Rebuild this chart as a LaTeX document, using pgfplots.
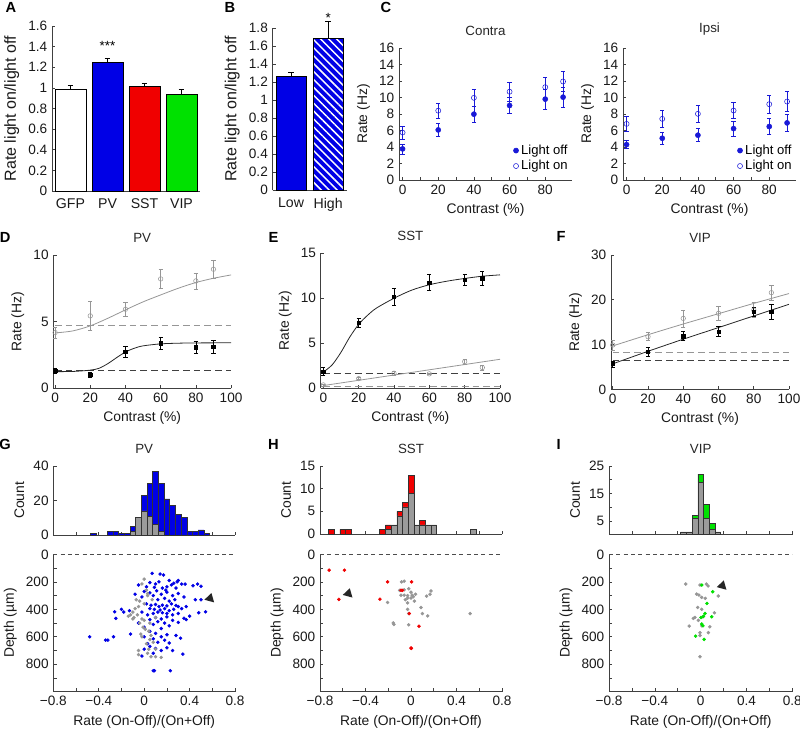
\documentclass[border=0pt]{standalone}
\usepackage{fontspec}
\setmainfont{Liberation Sans}
\usepackage{pgfplots}
\pgfplotsset{compat=1.18}
\usetikzlibrary{patterns.meta}
\definecolor{mblue}{RGB}{0,0,230}
\definecolor{cblue}{RGB}{25,25,215}
\definecolor{mred}{RGB}{240,0,0}
\definecolor{mgreen}{RGB}{0,225,0}
\definecolor{mgrey}{RGB}{150,150,150}
\definecolor{hgrey}{RGB}{155,155,155}
\pgfplotsset{
 base/.style={scale only axis, anchor=south west, axis lines=left,
   axis line style={-, black!75, line width=0.5pt},
   tick align=inside, major tick length=2.5pt, minor tick length=2.5pt,
   tick style={black!75, line width=0.5pt}, clip=false,
   /pgf/number format/assume math mode=true,
   every tick label/.append style={font=\fontsize{10.2}{11}\selectfont, text=black!90},
   label style={font=\fontsize{10.4}{12}\selectfont, text=black!90},
   title style={font=\fontsize{10}{11}\selectfont, text=black!85}},
 errs/.style={error bars/.cd, y dir=both, y explicit,
   error bar style={line width=0.45pt},
   error mark options={rotate=90, mark size=1.6pt, line width=0.45pt}},
 errp/.style={error bars/.cd, y dir=plus, y explicit,
   error bar style={line width=0.5pt, black},
   error mark options={rotate=90, mark size=2.2pt, line width=0.5pt, black}},
 hist/.style={base, xmin=-0.8, xmax=0.8, ymin=0, ybar stacked, bar width=0.05,
   xtick={-0.8,-0.6,-0.4,-0.2,0,0.2,0.4,0.6,0.8}, xticklabels={}, ylabel={Count}},
 scat/.style={base, xmin=-0.8, xmax=0.8, ymin=0, ymax=1000, y dir=reverse,
   xtick={-0.8,-0.6,-0.4,-0.2,0,0.2,0.4,0.6,0.8},
   xticklabels={−0.8,,−0.4,,0,,0.4,,0.8},
   ytick={0,100,200,300,400,500,600,700,800,900,1000},
   yticklabels={0,,200,,400,,600,,800,,},
   xlabel={Rate (On-Off)/(On+Off)}, ylabel={Depth (µm)}},
 cont/.style={base, xmin=-2, xmax=95, ymin=0, ymax=16, xtick={0,20,40,60,80},
   minor x tick num=1, ytick={0,2,4,6,8,10,12,14,16},
   xlabel={Contrast (\%)}, ylabel={Rate (Hz)},
   legend style={draw=none, fill=none, at={(1.0,0.03)}, anchor=south east,
     font=\fontsize{9.8}{10}\selectfont, row sep=-1pt, inner sep=1pt},
   legend cell align=left},
 tune/.style={base, xmin=-1, xmax=100, ymin=0, xtick={0,20,40,60,80,100},
   xlabel={Contrast (\%)}, ylabel={Rate (Hz)}},
}
\begin{document}
\begin{tikzpicture}[font=\fontsize{10}{11}\selectfont]
\path[use as bounding box] (0,0) rectangle (600pt,549pt);
% panel letters
\begin{scope}[every node/.style={font=\bfseries\fontsize{11}{12}\selectfont}]
\node at (8.25pt,543.4pt) {A};
\node at (172.5pt,543.4pt) {B};
\node at (289.5pt,543.4pt) {C};
\node at (3.9pt,370.9pt) {D};
\node at (205.1pt,370.9pt) {E};
\node at (420.75pt,372pt) {F};
\node at (3.9pt,216pt) {G};
\node at (205.1pt,216pt) {H};
\node at (418.9pt,216pt) {I};
\end{scope}

% ---------------- A
\begin{axis}[base, at={(39pt,405.75pt)}, width=111pt, height=123.75pt,
  xmin=0.5, xmax=4.5, ymin=0, ymax=1.6, ybar, bar width=0.84,
  ytick={0,0.2,0.4,0.6,0.8,1,1.2,1.4,1.6},
  xtick={1,2,3,4}, xticklabels={GFP,PV,SST,VIP}, xtick style={draw=none},
  xticklabel style={font=\fontsize{10.6}{11}\selectfont},
  ylabel style={font=\fontsize{12}{13}\selectfont},
  ylabel={Rate light on/light off}]
\addplot[fill=white, draw=black, bar shift=0pt, errp] coordinates {(1,0.986) +- (0,0.04)};
\addplot[fill=mblue, draw=black, bar shift=0pt, errp] coordinates {(2,1.251) +- (0,0.036)};
\addplot[fill=mred, draw=black, bar shift=0pt, errp] coordinates {(3,1.018) +- (0,0.026)};
\addplot[fill=mgreen, draw=black, bar shift=0pt, errp] coordinates {(4,0.938) +- (0,0.044)};
\node[anchor=base] at (axis cs:2,1.36) {***};
\end{axis}

% ---------------- B
\begin{axis}[base, at={(204.4pt,406.5pt)}, width=55.6pt, height=121.5pt,
  xmin=0.5, xmax=2.5, ymin=0, ymax=1.8, ybar, bar width=0.82,
  ytick={0,0.2,0.4,0.6,0.8,1,1.2,1.4,1.6,1.8},
  xtick={1,2}, xticklabels={Low,High}, xtick style={draw=none},
  xticklabel style={font=\fontsize{10.6}{11}\selectfont},
  ylabel style={font=\fontsize{12}{13}\selectfont},
  ylabel={Rate light on/light off}]
\addplot[fill=mblue, draw=black, bar shift=0pt, errp] coordinates {(1,1.259) +- (0,0.05)};
\addplot[fill=mblue, draw=black, bar shift=0pt,
  postaction={pattern={Lines[angle=-45,distance=4.2pt,line width=1.1pt]}, pattern color=white},
  errp] coordinates {(2,1.69) +- (0,0.18)};
\node[anchor=base] at (axis cs:2,1.86) {*};
\end{axis}

% ---------------- C Contra
\begin{axis}[cont, at={(299.25pt,414pt)}, width=129.75pt, height=99pt, title={Contra}]
\addplot[only marks, mark=*, mark size=1.9pt, cblue, errs] coordinates {
(0,3.77) +- (0,0.6) (20,6.07) +- (0,0.75) (40,7.98) +- (0,1.0)
(60,9.03) +- (0,1.0) (80,9.8) +- (0,1.2) (90,10.04) +- (0,1.2)};
\addlegendentry{Light off}
\addplot[only marks, mark=o, mark size=1.9pt, cblue, errs] coordinates {
(0,5.75) +- (0,0.8) (20,8.4) +- (0,0.95) (40,9.96) +- (0,1.07)
(60,10.7) +- (0,1.2) (80,11.25) +- (0,1.2) (90,11.94) +- (0,1.2)};
\addlegendentry{Light on}
\end{axis}

% ---------------- C Ipsi
\begin{axis}[cont, at={(467.25pt,414pt)}, width=129.75pt, height=99pt, title={Ipsi}]
\addplot[only marks, mark=*, mark size=1.9pt, cblue, errs] coordinates {
(0,4.29) +- (0,0.5) (20,5.06) +- (0,0.75) (40,5.43) +- (0,0.8)
(60,6.23) +- (0,0.9) (80,6.48) +- (0,0.95) (90,6.92) +- (0,1.05)};
\addlegendentry{Light off}
\addplot[only marks, mark=o, mark size=1.9pt, cblue, errs] coordinates {
(0,6.8) +- (0,0.9) (20,7.41) +- (0,1.0) (40,8.02) +- (0,1.0)
(60,8.42) +- (0,1.0) (80,9.19) +- (0,1.1) (90,9.51) +- (0,1.2)};
\addlegendentry{Light on}
\end{axis}

% ---------------- D
\begin{axis}[tune, at={(40pt,257.8pt)}, width=133.3pt, height=100pt,
  ymax=10, ytick={0,5,10}, title={PV}]
\addplot[mgrey, dashed, dash pattern=on 5pt off 3pt, line width=0.6pt] coordinates {(0,4.68) (100,4.68)};
\addplot[black!75, dashed, dash pattern=on 5pt off 3pt, line width=0.6pt] coordinates {(0,1.33) (100,1.33)};
\addplot[mgrey, smooth, line width=0.6pt] coordinates {(0,4.15) (10,4.3) (20,4.68) (30,5.25) (40,5.88) (50,6.48) (60,7.0) (70,7.5) (80,7.93) (90,8.25) (100,8.5)};
\addplot[black!85, smooth, line width=0.6pt] coordinates {(0,1.25) (10,1.26) (20,1.36) (25,1.5) (30,1.85) (35,2.3) (40,2.72) (45,3.0) (50,3.18) (60,3.33) (70,3.38) (80,3.4) (100,3.41)};
\addplot[only marks, mark=o, mark size=1.7pt, mgrey, errs] coordinates {
(0,4.18) +- (0,0.4) (20,5.43) +- (0,1.07) (40,5.93) +- (0,0.55)
(60,8.2) +- (0,0.7) (80,8.05) +- (0,0.6) (90,8.93) +- (0,0.65)};
\addplot[only marks, mark=square*, mark size=1.3pt, black, errs] coordinates {
(0,1.3) +- (0,0.2) (20,1.0) +- (0,0.18) (40,2.75) +- (0,0.4)
(60,3.38) +- (0,0.45) (80,3.08) +- (0,0.45) (90,3.13) +- (0,0.5)};
\end{axis}

% ---------------- E
\begin{axis}[tune, at={(240.5pt,257.8pt)}, width=134.5pt, height=101.25pt,
  xmin=-1.5, ymax=15, ytick={0,5,10,15}, title={SST}]
\addplot[mgrey, dashed, dash pattern=on 5pt off 3pt, line width=0.6pt] coordinates {(0,0.24) (100,0.24)};
\addplot[black!75, dashed, dash pattern=on 5pt off 3pt, line width=0.6pt] coordinates {(0,1.67) (100,1.67)};
\addplot[mgrey, line width=0.6pt] coordinates {(0,0.3) (100,3.22)};
\addplot[black!85, smooth, line width=0.6pt] coordinates {(0,1.8) (5,2.6) (10,4.0) (15,5.7) (20,7.1) (25,8.1) (30,8.9) (40,10.0) (50,10.9) (60,11.5) (70,11.9) (80,12.2) (90,12.45) (100,12.6)};
\addplot[only marks, mark=o, mark size=1.7pt, mgrey, errs] coordinates {
(0,0.37) +- (0,0.1) (20,1.07) +- (0,0.1) (40,1.67) +- (0,0.2)
(60,1.6) +- (0,0.1) (80,2.96) +- (0,0.25) (90,2.3) +- (0,0.3)};
\addplot[only marks, mark=square*, mark size=1.3pt, black, errs] coordinates {
(0,1.85) +- (0,0.45) (20,7.3) +- (0,0.5) (40,10.19) +- (0,0.93)
(60,11.74) +- (0,0.9) (80,12.04) +- (0,0.63) (90,12.22) +- (0,0.8)};
\end{axis}

% ---------------- F
\begin{axis}[tune, at={(458.25pt,257pt)}, width=133.5pt, height=100.7pt,
  ymax=30, ytick={0,10,20,30}, title={VIP}]
\addplot[mgrey, dashed, dash pattern=on 5pt off 3pt, line width=0.6pt] coordinates {(0,8.27) (100,8.27)};
\addplot[black!75, dashed, dash pattern=on 5pt off 3pt, line width=0.6pt] coordinates {(0,6.4) (100,6.4)};
\addplot[mgrey, smooth, line width=0.6pt] coordinates {(0,9.7) (20,12.2) (40,14.6) (60,16.9) (80,19.2) (100,21.4)};
\addplot[black!85, smooth, line width=0.6pt] coordinates {(0,5.7) (20,8.5) (40,11.2) (60,13.8) (80,16.4) (100,19.0)};
\addplot[only marks, mark=o, mark size=1.7pt, mgrey, errs] coordinates {
(0,9.9) +- (0,1.1) (20,11.76) +- (0,0.9) (40,15.86) +- (0,1.9)
(60,16.98) +- (0,1.6) (80,17.7) +- (0,1.7) (90,21.6) +- (0,1.6)};
\addplot[only marks, mark=square*, mark size=1.3pt, black, errs] coordinates {
(0,5.66) +- (0,0.7) (20,8.4) +- (0,1.1) (40,11.9) +- (0,1.0)
(60,12.9) +- (0,1.1) (80,17.3) +- (0,1.0) (90,17.35) +- (0,1.6)};
\end{axis}

% ---------------- G histogram
\begin{axis}[hist, at={(40pt,147.75pt)}, width=136.3pt, height=51.75pt,
  ymax=40, ytick={0,20,40}, title={PV}]
\addplot[fill=hgrey, draw=black!80, line width=0.4pt] coordinates {
(-0.45,0) (-0.3,0) (-0.25,0) (-0.2,0) (-0.15,0) (-0.1,2) (-0.05,10) (0,14) (0.05,11) (0.1,6)
(0.15,2) (0.2,0) (0.25,0) (0.3,0) (0.35,0) (0.4,0) (0.45,0) (0.5,0) (0.55,0)};
\addplot[fill=mblue, draw=black!80, line width=0.4pt] coordinates {
(-0.45,1) (-0.3,2) (-0.25,2) (-0.2,1) (-0.15,1) (-0.1,3) (-0.05,0) (0,9) (0.05,19) (0.1,31)
(0.15,28) (0.2,21) (0.25,17) (0.3,12) (0.35,10) (0.4,2) (0.45,2) (0.5,3) (0.55,1)};
\end{axis}

% ---------------- G scatter
\begin{axis}[scat, at={(40pt,30.2pt)}, width=136.3pt, height=103pt]
\addplot[black!70, dashed, dash pattern=on 3pt off 2.5pt, line width=0.5pt] coordinates {(-0.8,0) (0.8,0)};
\addplot[only marks, mark=*, mark size=1.1pt, mblue] coordinates {
(0.07,138) (0.14,143) (0.17,150) (0.02,236) (-0.05,223) (0.05,205) (0.1,215) (0.13,200) (0.2,236)
(0.26,210) (0.29,200) (0.33,216) (0.36,216) (0.43,228) (0.47,216) (0.5,232) (0.3,190) (0.22,190)
(0.24,222) (0.09,240) (0.16,245) (0.28,245) (0.19,260)
(0.0,270) (0.05,280) (0.11,265) (0.15,290) (0.2,275) (0.25,300) (0.3,285) (0.35,310) (0.08,300)
(-0.02,310) (0.18,320) (0.45,330) (0.5,330) (0.12,330) (0.22,340) (0.27,330) (-0.08,290)
(0.02,360) (0.06,370) (0.1,365) (0.13,380) (0.16,370) (0.2,375) (0.24,360) (0.28,372) (0.3,380)
(0.05,395) (0.09,400) (0.14,405) (0.18,395) (0.22,410) (0.26,400) (0.33,395) (0.37,380) (0.12,420)
(0.16,425) (0.2,430) (0.08,430) (0.03,440) (-0.02,420) (0.25,440) (0.3,430) (0.4,450) (0.48,425)
(0.54,418) (-0.18,420) (-0.26,418) (-0.13,410) (-0.2,400)
(0.1,460) (0.15,470) (0.2,455) (0.05,475) (0.25,480) (0.35,465) (0.37,475) (0.12,490) (0.18,500)
(-0.25,466) (-0.05,500) (0.08,510) (0.22,520) (0.3,495) (0.0,530) (0.15,540)
(0.05,560) (0.1,575) (0.2,585) (-0.12,580) (0.15,600) (0.28,590) (0.0,600) (0.08,615) (-0.48,600)
(-0.34,624) (-0.32,624) (-0.27,600) (0.12,640) (0.22,645) (0.03,650) (0.18,625) (0.32,610)
(0.05,670) (0.1,685) (0.2,680) (0.0,690) (0.15,700) (0.34,726) (0.08,720) (0.25,700) (-0.02,740)
(0.08,847) (0.09,847) (0.23,847)};
\addplot[only marks, mark=*, mark size=1.1pt, mgrey] coordinates {
(0.0,180) (-0.02,215) (0.02,260) (0.03,285) (0.03,300) (-0.04,340) (0.0,360) (-0.05,380) (-0.08,395)
(-0.1,420) (-0.12,440) (-0.06,440) (-0.09,460) (-0.02,470) (0.0,480) (-0.04,500) (0.05,500)
(-0.01,530) (0.01,545) (0.04,560) (-0.03,580) (0.06,590) (-0.02,600) (0.05,620) (0.08,640)
(0.02,650) (0.04,690) (0.1,690) (-0.05,700) (0.03,720) (-0.05,730) (0.1,745) (0.15,750) (0.06,745)
(-0.1,470) (-0.14,450) (0.07,330) (0.1,460) (-0.07,330)};
\fill[black!85] (axis cs:0.53,330) -- ++(5.3pt,5pt) -- ++(2pt,-7pt) -- cycle;
\end{axis}

% ---------------- H histogram
\begin{axis}[hist, at={(240pt,148.5pt)}, width=136.5pt, height=51pt,
  ymax=15, ytick={0,5,10,15}, title={SST}]
\addplot[fill=hgrey, draw=black!80, line width=0.4pt] coordinates {
(-0.7,0) (-0.6,0) (-0.55,0) (-0.25,0) (-0.2,1) (-0.15,2) (-0.1,4) (-0.05,6) (0,9) (0.05,2)
(0.1,2) (0.15,2) (0.2,2) (0.55,1)};
\addplot[fill=mred, draw=black!80, line width=0.4pt] coordinates {
(-0.7,1) (-0.6,1) (-0.55,1) (-0.25,1) (-0.2,1) (-0.15,0) (-0.1,1) (-0.05,1) (0,4) (0.05,0)
(0.1,1) (0.15,0) (0.2,0) (0.55,0)};
\end{axis}

% ---------------- H scatter
\begin{axis}[scat, at={(240pt,30.2pt)}, width=136.5pt, height=103pt]
\addplot[black!70, dashed, dash pattern=on 3pt off 2.5pt, line width=0.5pt] coordinates {(-0.8,0) (0.8,0)};
\addplot[only marks, mark=*, mark size=1.1pt, mgrey] coordinates {
(-0.083,200) (-0.06,195) (-0.1,262) (-0.06,258) (-0.02,250) (0.176,266) (0.167,290) (0.137,304)
(-0.206,350) (-0.088,297) (-0.06,297) (-0.03,300) (0.01,297) (0.02,308) (0.0,318) (-0.03,318)
(-0.03,353) (0.088,387) (-0.03,400) (-0.02,431) (0.1,431) (0.147,448) (0.52,431) (-0.156,499)
(-0.15,510) (-0.02,513) (0.04,290) (0.0,275) (-0.05,330) (0.03,340)};
\addplot[only marks, mark=*, mark size=1.1pt, mred] coordinates {
(-0.72,115) (-0.585,115) (-0.206,200) (0.005,200) (-0.088,261) (-0.273,326) (-0.634,328)
(-0.015,431) (0.07,523) (0.0,682) (-0.075,262) (0.003,684)};
\fill[black!85] (axis cs:-0.6,295) -- ++(5.3pt,5pt) -- ++(2pt,-7pt) -- cycle;
\end{axis}

% ---------------- I histogram
\begin{axis}[hist, at={(456.75pt,148pt)}, width=137.5pt, height=51.5pt,
  ymax=25, ytick={5,10,15,20,25}, yticklabels={5,,15,,25}, title={VIP}]
\addplot[fill=hgrey, draw=black!80, line width=0.4pt] coordinates {
(-0.15,1) (-0.1,1) (-0.05,6) (0,19) (0.05,6) (0.1,2) (0.15,1)};
\addplot[fill=mgreen, draw=black!80, line width=0.4pt] coordinates {
(-0.15,0) (-0.1,0) (-0.05,1) (0,3) (0.05,5) (0.1,2) (0.15,0)};
\end{axis}

% ---------------- I scatter
\begin{axis}[scat, at={(456.75pt,30.2pt)}, width=137.5pt, height=103pt]
\addplot[black!70, dashed, dash pattern=on 3pt off 2.5pt, line width=0.5pt] coordinates {(-0.8,0) (0.8,0)};
\addplot[only marks, mark=*, mark size=1.1pt, mgrey] coordinates {
(-0.13,216) (-0.006,223) (0.05,216) (0.065,230) (0.154,303) (-0.035,289) (-0.015,296) (0.009,313)
(0.04,320) (-0.026,386) (0.009,400) (0.12,425) (-0.05,459) (-0.064,466) (-0.02,480) (-0.1,522)
(0.08,527) (-0.006,570) (0.067,570) (-0.006,590) (-0.006,745) (0.02,455) (0.01,520)};
\addplot[only marks, mark=*, mark size=1.1pt, mgreen] coordinates {
(0.01,223) (0.105,272) (0.055,357) (0.038,430) (0.025,450) (0.096,454) (0.003,460) (0.009,507)
(-0.044,595) (0.03,619) (0.02,520)};
\fill[black!85] (axis cs:0.14,238) -- ++(5.3pt,5pt) -- ++(2pt,-7pt) -- cycle;
\end{axis}
\end{tikzpicture}
\end{document}
